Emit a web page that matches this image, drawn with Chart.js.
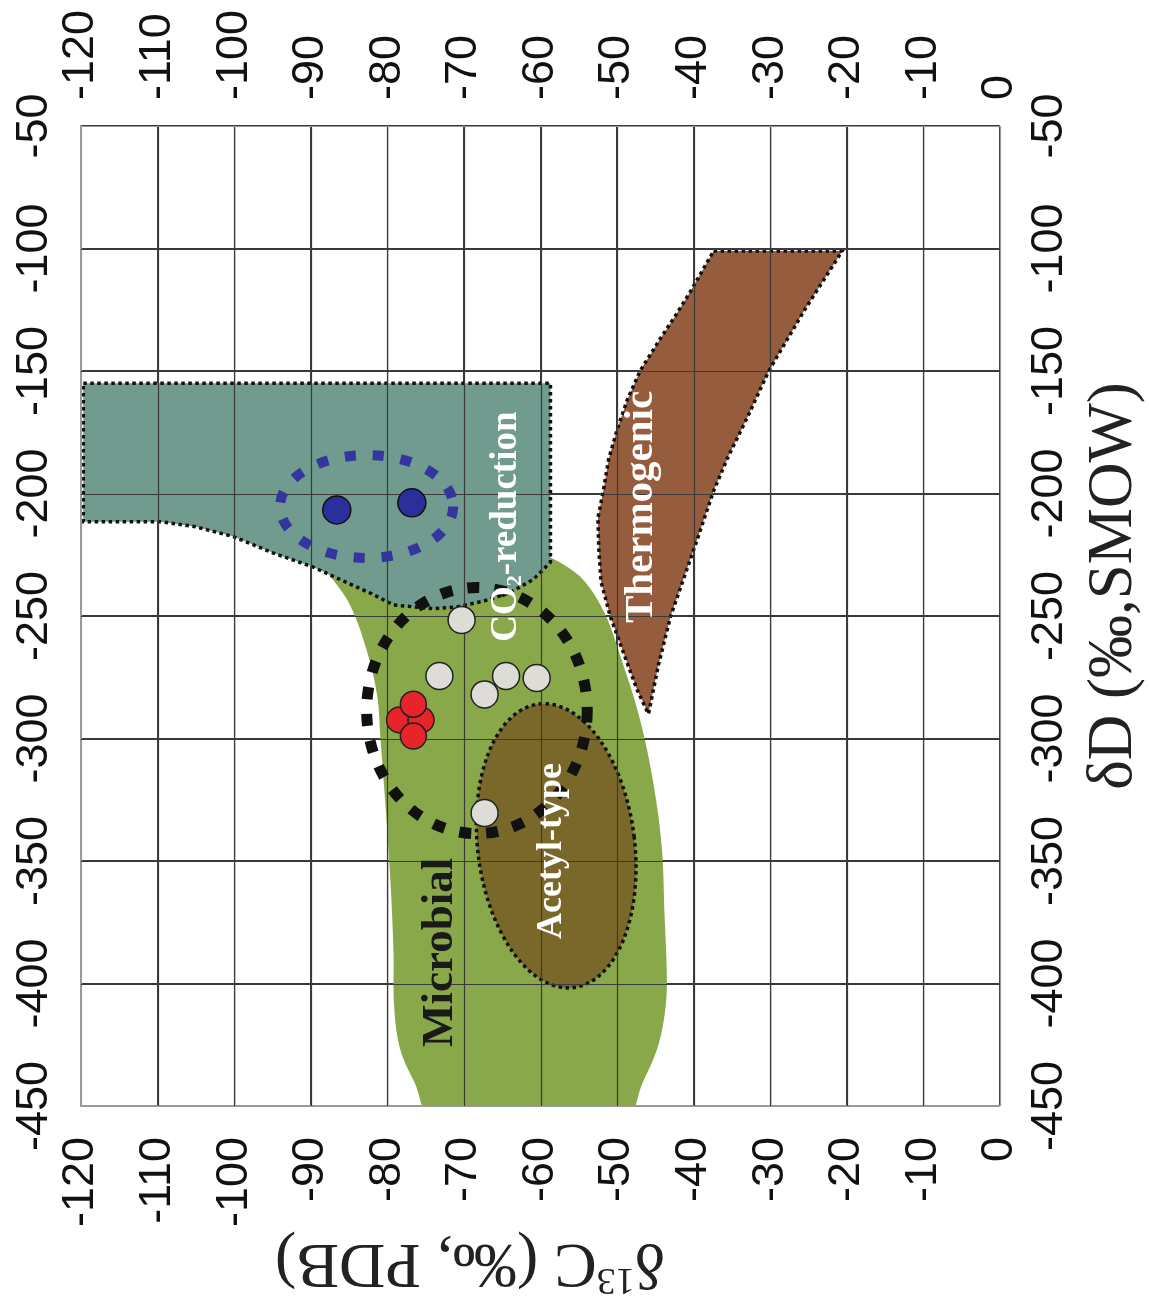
<!DOCTYPE html>
<html>
<head>
<meta charset="utf-8">
<title>δD vs δ13C methane origin diagram</title>
<script src="https://cdn.jsdelivr.net/npm/chart.js@4.4.1/dist/chart.umd.min.js"></script>
<style>
  html, body { margin: 0; padding: 0; background: #fff; }
  #wrap { width: 1149px; height: 1311px; position: relative; }
</style>
</head>
<body>
<div id="wrap"><canvas id="isoChart"></canvas></div>
<script>
// Tick labels
const carbonTicks = [-120, -110, -100, -90, -80, -70, -60, -50, -40, -30, -20, -10, 0];
const deuteriumTicks = [-450, -400, -350, -300, -250, -200, -150, -100, -50];

// Samples as [δ13C, δD]
const bluePoints = [[-86.6, -206.7], [-76.8, -203.8]];
const redPoints = [[-78.4, -292.4], [-75.6, -292.4], [-76.6, -286.0], [-76.6, -299.0]];
const grayPoints = [[-70.3, -251.6], [-73.2, -274.5], [-64.5, -274.5], [-60.5, -275.3], [-67.3, -282.0], [-67.3, -330.4]];

// Genetic fields, outlines as [δ13C, δD]
const microbialField = [
  [-89, -229], [-80, -224], [-68, -223], [-60, -225], [-57, -229], [-54.2, -236], [-51.6, -249],
  [-49.4, -268], [-47.2, -290], [-45.5, -314], [-44.2, -343], [-43.8, -372], [-43.5, -401],
  [-43.9, -415], [-44.8, -427], [-46.6, -440], [-49.5, -458], [-73.5, -458], [-76.5, -440],
  [-78.3, -427], [-79.1, -410], [-79.2, -387], [-79.6, -358], [-80.2, -329], [-80.9, -300],
  [-81.3, -283], [-82.6, -265], [-84.8, -246], [-87.4, -234], [-89, -229]
];
const co2Field = [
  [-119.7, -155], [-58.7, -155], [-58.7, -228], [-60.9, -235], [-64, -240.5], [-67.5, -244],
  [-71, -246.3], [-74, -247], [-79.2, -245.5], [-82, -241], [-85.2, -236.5], [-89.7, -230],
  [-94.9, -224.3], [-100.1, -217.6], [-105, -213.6], [-109.7, -211.5], [-119.7, -211.5], [-119.7, -155]
];
const thermogenicField = [
  [-37.4, -101], [-20.6, -101], [-25.5, -125], [-30.2, -150], [-33, -169], [-35.5, -185],
  [-37.4, -199], [-40, -223], [-43, -250], [-44.6, -270], [-45.9, -290], [-47.4, -280],
  [-48.7, -269], [-50.9, -250], [-52.1, -236], [-52.4, -222], [-52.5, -210], [-51.8, -199],
  [-51.1, -186], [-50, -174], [-48.7, -162], [-47, -150], [-44.4, -137], [-42.3, -127],
  [-40.5, -118], [-37.4, -101]
];

// Ellipses: [centre δ13C, centre δD, radius δ13C, radius δD]
const acetylEllipse = [-57.95, -343.8, 10.25, 58.3];
const sampleGroupEllipse = [-68.3, -288.6, 14.4, 50.2];
const blueGroupEllipse = [-82.7, -205.3, 11.3, 21];

// Field names and where they sit [δ13C, δD]
const fieldNames = ['Microbial', 'CO2-reduction', 'Acetyl-type', 'Thermogenic'];
const fieldNameAt = [[-73.1, -387.3], [-64.4, -213.5], [-58.6, -345.9], [-46.8, -205.5]];

const toXY = arr => arr.map(p => ({ x: p[0], y: p[1] }));

function ellipsePath(chart, e, rot) {
    const { x, y } = chart.scales;
    const cx = x.getPixelForValue(e[0]);
    const cy = y.getPixelForValue(e[1]);
    const rx = Math.abs(x.getPixelForValue(e[0] + e[2]) - cx);
    const ry = Math.abs(y.getPixelForValue(e[1] + e[3]) - cy);
    chart.ctx.beginPath();
    chart.ctx.ellipse(cx, cy, rx, ry, rot, 0, Math.PI * 2);
}

function drawGrid(chart) {
    const { ctx, chartArea: a, scales: { x, y } } = chart;
    ctx.save();
    ctx.lineWidth = 1.2;
    x.ticks.forEach(t => {
        const px = Math.round(x.getPixelForValue(t.value)) + 0.5;
        ctx.strokeStyle = (t.value === x.min || t.value === x.max) ? '#9a9a9a' : '#3a3a3a';
        ctx.beginPath(); ctx.moveTo(px, a.top); ctx.lineTo(px, a.bottom); ctx.stroke();
    });
    y.ticks.forEach(t => {
        const py = Math.round(y.getPixelForValue(t.value)) + 0.5;
        ctx.strokeStyle = (t.value === y.min || t.value === y.max) ? '#9a9a9a' : '#3a3a3a';
        ctx.beginPath(); ctx.moveTo(a.left, py); ctx.lineTo(a.right, py); ctx.stroke();
    });
    ctx.restore();
}

function rotatedText(ctx, text, px, py, angle, align) {
    ctx.save();
    ctx.translate(px, py);
    ctx.rotate(angle);
    ctx.textAlign = align;
    ctx.fillText(text, 0, 0);
    ctx.restore();
}

const overlay = {
    id: 'overlay',
    afterDatasetDraw(chart, args) {
        if (chart.data.datasets[args.index].label !== 'Thermogenic') return;
        const ctx = chart.ctx;
        ctx.save();
        // Acetyl-type field
        ellipsePath(chart, acetylEllipse, -7 * Math.PI / 180);
        ctx.fillStyle = '#7a682a';
        ctx.fill();
        ctx.setLineDash([3.5, 3.5]);
        ctx.lineWidth = 3.5;
        ctx.strokeStyle = '#111';
        ctx.stroke();
        ctx.restore();

        // grid sits over the coloured fields
        drawGrid(chart);

        ctx.save();
        // sample group rings
        ellipsePath(chart, sampleGroupEllipse, 0);
        ctx.setLineDash([12, 15]);
        ctx.lineWidth = 11;
        ctx.strokeStyle = '#111';
        ctx.stroke();
        ellipsePath(chart, blueGroupEllipse, 0);
        ctx.setLineDash([11, 17]);
        ctx.lineWidth = 10;
        ctx.strokeStyle = '#35359f';
        ctx.stroke();
        ctx.restore();
    },
    afterDatasetsDraw(chart) {
        const { ctx, scales: { x, y } } = chart;
        const serif = '"Liberation Serif", "Times New Roman", serif';
        ctx.save();
        ctx.textBaseline = 'middle';
        fieldNames.forEach((name, i) => {
            const px = x.getPixelForValue(fieldNameAt[i][0]);
            const py = y.getPixelForValue(fieldNameAt[i][1]);
            if (name === 'CO2-reduction') {
                ctx.save();
                ctx.translate(px, py);
                ctx.rotate(-Math.PI / 2);
                ctx.fillStyle = '#fff';
                ctx.font = 'bold 37px ' + serif;
                const w1 = ctx.measureText('CO').width;
                const w3 = ctx.measureText('-reduction').width;
                ctx.font = 'bold 22px ' + serif;
                const w2 = ctx.measureText('2').width;
                let sx = -(w1 + w2 + w3) / 2;
                ctx.textAlign = 'left';
                ctx.font = 'bold 37px ' + serif;
                ctx.fillText('CO', sx, 0);
                ctx.font = 'bold 22px ' + serif;
                ctx.fillText('2', sx + w1, 9);
                ctx.font = 'bold 37px ' + serif;
                ctx.fillText('-reduction', sx + w1 + w2, 0);
                ctx.restore();
                return;
            }
            const size = { 'Microbial': 45, 'Acetyl-type': 36, 'Thermogenic': 41 }[name];
            ctx.font = 'bold ' + size + 'px ' + serif;
            ctx.fillStyle = name === 'Microbial' ? '#1a1a1a' : '#fff';
            rotatedText(ctx, name, px, py, -Math.PI / 2, 'center');
        });
        ctx.restore();
    },
    afterDraw(chart) {
        const { ctx, chartArea: a, scales: { x, y } } = chart;
        const serif = '"Liberation Serif", "Times New Roman", serif';
        ctx.save();
        ctx.fillStyle = '#111';
        ctx.textBaseline = 'middle';
        ctx.font = '45px "Liberation Sans", Arial, sans-serif';
        carbonTicks.forEach(v => {
            const px = x.getPixelForValue(v);
            rotatedText(ctx, String(v), px, a.top - 26, -Math.PI / 2, 'left');
            rotatedText(ctx, String(v), px, a.bottom + 31, -Math.PI / 2, 'right');
        });
        deuteriumTicks.forEach(v => {
            const py = y.getPixelForValue(v);
            rotatedText(ctx, String(v), a.left - 46, py, -Math.PI / 2, 'center');
            rotatedText(ctx, String(v), a.right + 50, py, -Math.PI / 2, 'center');
        });

        // axis titles
        ctx.fillStyle = '#222';
        ctx.font = '63px ' + serif;
        rotatedText(ctx, 'δD (‰,SMOW)', a.right + 114, 586, -Math.PI / 2, 'center');

        ctx.save();
        ctx.translate(470, 1262);
        ctx.rotate(Math.PI);
        ctx.textAlign = 'left';
        ctx.font = '64px ' + serif;
        const wa = ctx.measureText('δ').width;
        const wc = ctx.measureText('C (‰, PDB)').width;
        ctx.font = '38px ' + serif;
        const wb = ctx.measureText('13').width;
        const sx = -(wa + wb + wc) / 2;
        ctx.font = '64px ' + serif;
        ctx.fillText('δ', sx, 0);
        ctx.font = '38px ' + serif;
        ctx.fillText('13', sx + wa, -17);
        ctx.font = '64px ' + serif;
        ctx.fillText('C (‰, PDB)', sx + wa + wb, 0);
        ctx.restore();
        ctx.restore();
    }
};

const fieldStyle = {
    showLine: true,
    fill: 'shape',
    pointRadius: 0,
    borderColor: '#111',
    borderWidth: 3.5,
    borderDash: [3.5, 3.5],
    tension: 0
};

new Chart(document.getElementById('isoChart'), {
    type: 'scatter',
    data: {
        datasets: [
            { label: 'Blue samples', data: toXY(bluePoints), order: 0,
              pointRadius: 14, backgroundColor: '#2a2f9c', borderColor: '#111', borderWidth: 1.5 },
            { label: 'Red samples', data: toXY(redPoints), order: 1,
              pointRadius: 13, backgroundColor: '#e8232a', borderColor: '#222', borderWidth: 1.5 },
            { label: 'Gray samples', data: toXY(grayPoints), order: 2,
              pointRadius: 13.5, backgroundColor: '#dedcd6', borderColor: '#222', borderWidth: 1.5 },
            Object.assign({ label: 'Thermogenic', data: toXY(thermogenicField), order: 3,
              backgroundColor: '#965c3e' }, fieldStyle),
            Object.assign({ label: 'CO2-reduction', data: toXY(co2Field), order: 4,
              backgroundColor: '#709b8e' }, fieldStyle),
            { label: 'Microbial', data: toXY(microbialField), order: 5, showLine: true, fill: 'shape',
              pointRadius: 0, borderWidth: 0, borderColor: 'rgba(0,0,0,0)', backgroundColor: '#89a84a',
              tension: 0.35, clip: 0 }
        ]
    },
    options: {
        responsive: true,
        maintainAspectRatio: false,
        animation: false,
        events: [],
        layout: { padding: { left: 81, right: 149, top: 126, bottom: 205 } },
        plugins: {
            legend: { display: false },
            tooltip: { enabled: false }
        },
        scales: {
            x: {
                type: 'linear', min: -120, max: 0,
                ticks: { display: false, stepSize: 10 },
                grid: { color: '#3a3a3a', lineWidth: 1.2, drawTicks: false },
                border: { display: true, color: '#9a9a9a', width: 2 },
                afterFit: s => { s.height = 0; }
            },
            y: {
                type: 'linear', min: -450, max: -50,
                ticks: { display: false, stepSize: 50 },
                grid: { color: '#3a3a3a', lineWidth: 1.2, drawTicks: false },
                border: { display: true, color: '#9a9a9a', width: 2 },
                afterFit: s => { s.width = 0; }
            }
        }
    },
    plugins: [overlay]
});
</script>
</body>
</html>
